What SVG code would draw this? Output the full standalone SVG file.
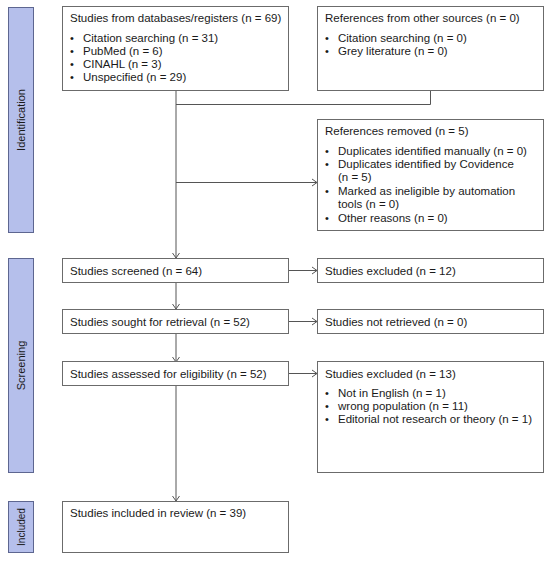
<svg xmlns="http://www.w3.org/2000/svg" width="550" height="561" viewBox="0 0 550 561">
<style>
.box{fill:#ffffff;stroke:#6b6b6b;stroke-width:1}
.bar{fill:#b5bfeb;stroke:#5d6690;stroke-width:1}
.t{font-family:"Liberation Sans",Arial,sans-serif;font-size:11.5px;fill:#1a1a1a}
.bl{font-family:"Liberation Sans",Arial,sans-serif;font-size:11px;fill:#1a1a1a}
.lbl{font-family:"Liberation Sans",Arial,sans-serif;font-size:11px;fill:#1a1a1a;text-anchor:middle}
.c{fill:none;stroke:#555555;stroke-width:1}
</style>
<defs>
<marker id="arr" markerWidth="8" markerHeight="10" refX="6" refY="5" orient="auto" markerUnits="userSpaceOnUse">
<path d="M1,1.5 L6,5 L1,8.5" fill="none" stroke="#555555" stroke-width="1"/>
</marker>
</defs>
<rect width="550" height="561" fill="#ffffff"/>

<g id="phase-identification">
<rect class="bar" x="8.5" y="7.5" width="25" height="225"/>
<text class="lbl" transform="translate(25,120) rotate(-90)">Identification</text>
</g>
<g id="phase-screening">
<rect class="bar" x="8.5" y="258.5" width="25" height="214"/>
<text class="lbl" transform="translate(25,365.5) rotate(-90)">Screening</text>
</g>
<g id="phase-included">
<rect class="bar" x="8.5" y="501.5" width="25" height="51"/>
<text class="lbl" style="font-size:10px" transform="translate(24.5,527) rotate(-90)">Included</text>
</g>

<g id="connectors">
<line class="c" x1="176" y1="91" x2="176" y2="258" marker-end="url(#arr)"/>
<polyline class="c" points="430.5,91 430.5,104.5 176,104.5"/>
<line class="c" x1="176" y1="182.5" x2="317" y2="182.5" marker-end="url(#arr)"/>
<line class="c" x1="289" y1="270.5" x2="317" y2="270.5" marker-end="url(#arr)"/>
<line class="c" x1="176" y1="282" x2="176" y2="309" marker-end="url(#arr)"/>
<line class="c" x1="289" y1="321.5" x2="317" y2="321.5" marker-end="url(#arr)"/>
<line class="c" x1="176" y1="333" x2="176" y2="362" marker-end="url(#arr)"/>
<line class="c" x1="289" y1="373.5" x2="317" y2="373.5" marker-end="url(#arr)"/>
<line class="c" x1="176" y1="386" x2="176" y2="501" marker-end="url(#arr)"/>
</g>

<g id="databases">
<rect class="box" x="62.5" y="6.5" width="226" height="84"/>
<text class="t" x="70" y="22">Studies from databases/registers (n = 69)</text>
<text class="bl" x="70" y="42">•</text><text class="t" x="83" y="42">Citation searching (n = 31)</text>
<text class="bl" x="70" y="55">•</text><text class="t" x="83" y="55">PubMed (n = 6)</text>
<text class="bl" x="70" y="68">•</text><text class="t" x="83" y="68">CINAHL (n = 3)</text>
<text class="bl" x="70" y="81">•</text><text class="t" x="83" y="81">Unspecified (n = 29)</text>
</g>

<g id="other-sources">
<rect class="box" x="317.5" y="6.5" width="226" height="84"/>
<text class="t" x="325" y="22">References from other sources (n = 0)</text>
<text class="bl" x="325" y="42">•</text><text class="t" x="338" y="42">Citation searching (n = 0)</text>
<text class="bl" x="325" y="55">•</text><text class="t" x="338" y="55">Grey literature (n = 0)</text>
</g>

<g id="removed">
<rect class="box" x="317.5" y="119.5" width="226" height="111"/>
<text class="t" x="325" y="135">References removed (n = 5)</text>
<text class="bl" x="325" y="155">•</text><text class="t" x="338" y="155">Duplicates identified manually (n = 0)</text>
<text class="bl" x="325" y="168">•</text><text class="t" x="338" y="168">Duplicates identified by Covidence</text>
<text class="t" x="338" y="181">(n = 5)</text>
<text class="bl" x="325" y="195">•</text><text class="t" x="338" y="195">Marked as ineligible by automation</text>
<text class="t" x="338" y="208">tools (n = 0)</text>
<text class="bl" x="325" y="222">•</text><text class="t" x="338" y="222">Other reasons (n = 0)</text>
</g>

<g id="screened">
<rect class="box" x="62.5" y="258.5" width="226" height="24"/>
<text class="t" x="70" y="274.5">Studies screened (n = 64)</text>
</g>
<g id="excluded-12">
<rect class="box" x="317.5" y="258.5" width="226" height="24"/>
<text class="t" x="325" y="274.5">Studies excluded (n = 12)</text>
</g>

<g id="sought">
<rect class="box" x="62.5" y="309.5" width="226" height="24"/>
<text class="t" x="70" y="325.5">Studies sought for retrieval (n = 52)</text>
</g>
<g id="not-retrieved">
<rect class="box" x="317.5" y="309.5" width="226" height="24"/>
<text class="t" x="325" y="325.5">Studies not retrieved (n = 0)</text>
</g>

<g id="assessed">
<rect class="box" x="62.5" y="361.5" width="226" height="24"/>
<text class="t" x="70" y="377.5">Studies assessed for eligibility (n = 52)</text>
</g>
<g id="excluded-13">
<rect class="box" x="317.5" y="361.5" width="226" height="111"/>
<text class="t" x="325" y="377.5">Studies excluded (n = 13)</text>
<text class="bl" x="325" y="397">•</text><text class="t" x="338" y="397">Not in English (n = 1)</text>
<text class="bl" x="325" y="410">•</text><text class="t" x="338" y="410">wrong population (n = 11)</text>
<text class="bl" x="325" y="423">•</text><text class="t" x="338" y="423">Editorial not research or theory (n = 1)</text>
</g>

<g id="included">
<rect class="box" x="62.5" y="501.5" width="226" height="51"/>
<text class="t" x="70" y="517">Studies included in review (n = 39)</text>
</g>
</svg>
